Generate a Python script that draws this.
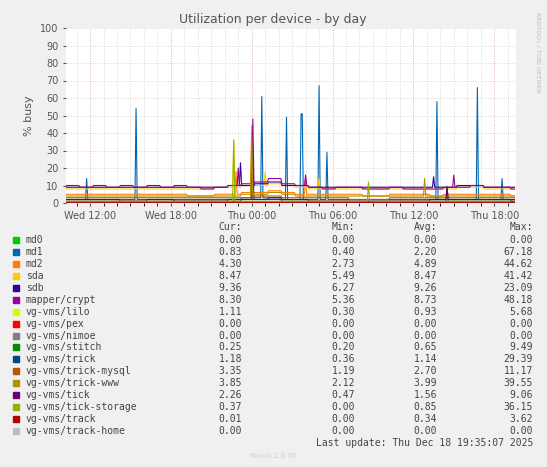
import numpy as np, pandas as pd, seaborn as sns, matplotlib
matplotlib.use("Agg")
import matplotlib.pyplot as plt
import matplotlib.dates as mdates

names = ["md0","md1","md2","sda","sdb","mapper/crypt","vg-vms/lilo","vg-vms/pex","vg-vms/nimoe",
         "vg-vms/stitch","vg-vms/trick","vg-vms/trick-mysql","vg-vms/trick-www","vg-vms/tick",
         "vg-vms/tick-storage","vg-vms/track","vg-vms/track-home"]
colors = ["#00CC00","#0066B3","#FF8000","#FFCC00","#330099","#990099","#CCFF00","#FF0000","#808080",
          "#008F00","#00487D","#B35A00","#B38F00","#6B006B","#8FB300","#B30000","#BEBEBE"]
cur = ["0.00","0.83","4.30","8.47","9.36","8.30","1.11","0.00","0.00","0.25","1.18","3.35","3.85","2.26","0.37","0.01","0.00"]
mn  = ["0.00","0.40","2.73","5.49","6.27","5.36","0.30","0.00","0.00","0.20","0.36","1.19","2.12","0.47","0.00","0.00","0.00"]
avg = ["0.00","2.20","4.89","8.47","9.26","8.73","0.93","0.00","0.00","0.65","1.14","2.70","3.99","1.56","0.85","0.34","0.00"]
mx  = ["0.00","67.18","44.62","41.42","23.09","48.18","5.68","0.00","0.00","9.49","29.39","11.17","39.55","9.06","36.15","3.62","0.00"]

# hourly baselines (34 hours starting Wed 10:15)
hourly = {
 "mapper/crypt": [10,9,10,9,10,9,10,9,10,9,8,9,10,11,12,14,11,10,9,8,9,9,8,8,9,8,8,8,9,9,10,9,9,8],
 "sdb":          [9,9,9,9,9,9,9,9,9,9,9,9,10,10,11,12,10,10,9,9,9,9,9,9,9,9,9,9,9,10,10,9,9,9],
 "sda":          [8,8,8,8,8,8,8,8,8,8,8,9,9,10,10,11,10,9,8,8,8,8,8,8,8,8,8,8,8,9,9,8,8,8],
 "md2":          [5,5,5,5,5,5,5,5,5,4,4,5,5,6,6,7,6,5,5,5,5,5,4,4,5,5,5,4,5,5,5,5,5,4],
 "md1":          [2,2,2,2,2,2,2,2,2,2,2,2,2,3,3,3,2,2,2,2,2,2,2,2,2,2,2,2,2,2,2,2,2,1],
 "vg-vms/trick-www":   [4,4,4,4,4,4,4,4,4,4,4,4,4,5,5,6,5,4,4,4,4,4,4,4,4,4,4,4,4,4,4,4,4,4],
 "vg-vms/trick-mysql": [3,3,3,3,3,3,3,3,3,3,3,3,3,3,4,4,3,3,3,3,3,2,2,2,3,3,3,3,3,3,3,3,3,3],
 "vg-vms/tick":        [2,2,2,2,1,1,2,2,1,1,1,1,2,2,2,3,2,2,1,1,1,1,1,1,1,1,1,2,2,2,2,2,2,2],
 "vg-vms/trick":       [1,1,1,1,1,1,1,1,1,1,1,1,1,2,2,2,1,1,1,1,1,1,1,1,1,1,1,1,1,1,1,1,1,1],
 "vg-vms/lilo":        [1,1,1,1,1,1,1,1,1,1,1,1,1,1,1,1,1,1,1,1,1,1,1,1,1,1,1,1,1,1,1,1,1,1],
 "vg-vms/tick-storage":[1,1,1,1,1,1,1,1,1,1,1,1,1,1,1,1,1,1,1,1,1,1,1,1,1,1,1,1,1,1,1,1,1,0],
 "vg-vms/stitch":      [0.6,0.6,0.6,0.6,0.6,0.6,0.6,0.6,0.6,0.6,0.6,0.6,0.6,0.8,0.8,0.8,0.6,0.6,0.6,0.6,0.6,0.6,0.6,0.6,0.6,0.6,0.6,0.6,0.6,0.6,0.6,0.6,0.6,0.3],
 "vg-vms/track":       [0.3]*34,
}
spikes = {
 "md1": [("2025-12-17 11:45",14),("2025-12-17 15:25",54),("2025-12-18 00:45",61),("2025-12-18 02:35",49),
         ("2025-12-18 03:40",51),("2025-12-18 03:45",51),("2025-12-18 05:00",67),("2025-12-18 05:35",29),
         ("2025-12-18 13:45",58),("2025-12-18 16:45",66),("2025-12-18 18:35",14)],
 "mapper/crypt": [("2025-12-18 00:05",48),("2025-12-17 23:00",20),("2025-12-18 04:00",16),("2025-12-18 15:00",16)],
 "md2": [("2025-12-18 00:00",44),("2025-12-17 22:50",18),("2025-12-18 04:00",14)],
 "sda": [("2025-12-17 22:40",36),("2025-12-18 01:00",18),("2025-12-18 05:00",14)],
 "sdb": [("2025-12-17 23:10",23),("2025-12-18 13:30",15)],
 "vg-vms/trick-www": [("2025-12-18 00:00",40),("2025-12-18 12:50",14)],
 "vg-vms/tick-storage": [("2025-12-17 22:40",36),("2025-12-18 08:40",12)],
 "vg-vms/trick": [("2025-12-18 00:05",29)],
 "vg-vms/trick-mysql": [("2025-12-18 00:00",11)],
 "vg-vms/stitch": [("2025-12-18 14:30",9.5)],
 "vg-vms/tick": [("2025-12-18 14:30",9)],
}

start = pd.Timestamp("2025-12-17 10:15")
n = 400
times = pd.date_range(start, periods=n, freq="5min")
rows = []
for nm in names:
    v = np.repeat(np.array(hourly.get(nm, [0]*34), float), 12)[:n]
    for t, val in spikes.get(nm, []):
        i = int((pd.Timestamp(t) - start) / pd.Timedelta("5min"))
        if 0 <= i < n: v[i] = val
    rows.append(pd.DataFrame({"time": times, "val": v, "name": nm}))
df = pd.concat(rows)

fig = plt.figure(figsize=(5.47, 4.67), dpi=100, facecolor="#F0F0F0")
ax = fig.add_axes([66/547, 1-203/467, 450/547, 175/467])
sns.lineplot(data=df, x="time", y="val", hue="name", hue_order=names,
             palette=colors, linewidth=0.8, legend=False, ax=ax)
ax.set_xlim(pd.Timestamp("2025-12-17 10:13"), pd.Timestamp("2025-12-18 19:37"))
ax.set_ylim(0, 100)
ax.set_yticks(range(0, 101, 10))
ax.xaxis.set_major_locator(mdates.HourLocator(byhour=[0,6,12,18]))
ax.xaxis.set_major_formatter(mdates.DateFormatter("%a %H:%M"))
ax.xaxis.set_minor_locator(mdates.HourLocator())
ax.grid(True, which="both", color="#D0D0D0", linestyle=":", linewidth=0.6)
ax.grid(True, which="major", axis="x", color="#E0B0B0", linestyle=":", linewidth=0.7)
ax.tick_params(labelsize=7, length=2, colors="#555555")
for s in ax.spines.values(): s.set_visible(False)
ax.set_xlabel(""); ax.set_ylabel("% busy", fontsize=8, color="#555555")
fig.text(273/547, 1-19/467, "Utilization per device - by day", ha="center", va="center", fontsize=9, color="#555555")
fig.text(538/547, 1-52/467, "RRDTOOL / TOBI OETIKER", rotation=270, ha="center", va="center", fontsize=4.5, color="#BBBBBB")

fs = 7.0
mono = "DejaVu Sans Mono"
def ty(y): return 1 - y/467
for x, h in [(242, "Cur:"), (355, "Min:"), (437, "Avg:"), (533, "Max:")]:
    fig.text(x/547, ty(227), h, ha="right", va="center", fontsize=fs, family=mono, color="#444444")
for i, nm in enumerate(names):
    y = 240 + i*11.94
    fig.patches.append(plt.Rectangle((13/547, ty(y+3)), 6/547, 6/467, transform=fig.transFigure, color=colors[i]))
    fig.text(26/547, ty(y), nm, ha="left", va="center", fontsize=fs, family=mono, color="#444444")
    for x, val in [(242, cur[i]), (355, mn[i]), (437, avg[i]), (533, mx[i])]:
        fig.text(x/547, ty(y), val, ha="right", va="center", fontsize=fs, family=mono, color="#444444")
fig.text(533/547, ty(443.5), "Last update: Thu Dec 18 19:35:07 2025", ha="right", va="center", fontsize=fs, family=mono, color="#444444")
fig.text(273/547, ty(456), "Munin 2.0.76", ha="center", va="center", fontsize=5, color="#CCCCCC")
fig.savefig("out.png", dpi=100, facecolor=fig.get_facecolor())
